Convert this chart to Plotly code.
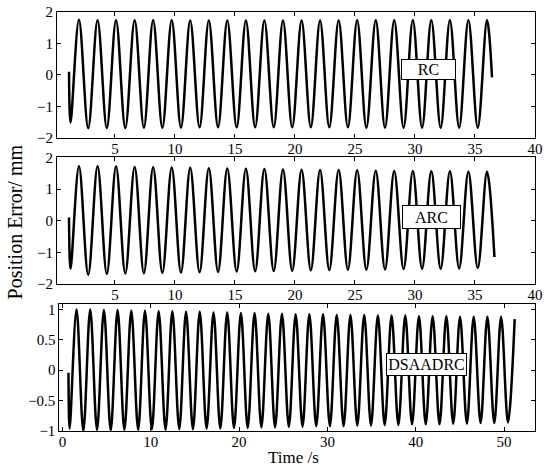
import plotly.graph_objects as go
from plotly.subplots import make_subplots

# extrema (time in s, error in mm), joined with a spline
rc_t = [1.17, 1.30, 2.00, 2.77, 3.55, 4.32, 5.09, 5.86, 6.64, 7.41, 8.18, 8.95,
        9.73, 10.50, 11.27, 12.05, 12.82, 13.59, 14.36, 15.14, 15.91, 16.68,
        17.45, 18.23, 19.00, 19.77, 20.55, 21.32, 22.09, 22.86, 23.64, 24.41,
        25.18, 25.95, 26.73, 27.50, 28.27, 29.05, 29.82, 30.59, 31.36, 32.14,
        32.91, 33.68, 34.45, 35.23, 36.00, 36.42]
rc_y = [0.10, -1.52, 1.75, -1.70, 1.74, -1.69, 1.74, -1.69, 1.74, -1.68, 1.74, -1.68,
        1.74, -1.68, 1.73, -1.67, 1.73, -1.67, 1.73, -1.67, 1.73, -1.67,
        1.73, -1.67, 1.73, -1.67, 1.73, -1.67, 1.73, -1.67, 1.73, -1.67,
        1.74, -1.68, 1.74, -1.68, 1.74, -1.68, 1.74, -1.68, 1.74, -1.68,
        1.74, -1.68, 1.74, -1.68, 1.74, -0.08]

arc_t = [1.17, 1.30, 2.00, 2.77, 3.55, 4.32, 5.09, 5.86, 6.64, 7.41, 8.18, 8.95,
         9.73, 10.50, 11.27, 12.05, 12.82, 13.59, 14.36, 15.14, 15.91, 16.68,
         17.45, 18.23, 19.00, 19.77, 20.55, 21.32, 22.09, 22.86, 23.64, 24.41,
         25.18, 25.95, 26.73, 27.50, 28.27, 29.05, 29.82, 30.59, 31.36, 32.14,
         32.91, 33.68, 34.45, 35.23, 36.00, 36.62]
arc_y = [0.10, -1.52, 1.72, -1.71, 1.72, -1.68, 1.71, -1.67, 1.70, -1.66, 1.69, -1.65,
         1.68, -1.64, 1.67, -1.63, 1.66, -1.62, 1.65, -1.61, 1.64, -1.60,
         1.63, -1.59, 1.62, -1.58, 1.61, -1.57, 1.60, -1.56, 1.60, -1.55,
         1.59, -1.55, 1.58, -1.54, 1.57, -1.53, 1.57, -1.52, 1.56, -1.52,
         1.56, -1.51, 1.55, -1.50, 1.55, -1.15]

ds_t = [0.68, 0.81, 1.59, 2.36, 3.14, 3.91, 4.69, 5.46, 6.24, 7.01, 7.79, 8.57,
        9.34, 10.12, 10.89, 11.67, 12.44, 13.22, 13.99, 14.77, 15.54, 16.32,
        17.10, 17.87, 18.65, 19.42, 20.20, 20.97, 21.75, 22.52, 23.30, 24.07,
        24.85, 25.63, 26.40, 27.18, 27.95, 28.73, 29.50, 30.28, 31.05, 31.83,
        32.60, 33.38, 34.16, 34.93, 35.71, 36.48, 37.26, 38.03, 38.81, 39.58,
        40.36, 41.13, 41.91, 42.69, 43.46, 44.24, 45.01, 45.79, 46.56, 47.34,
        48.11, 48.89, 49.66, 50.44, 51.20]
ds_y = [-0.04, -0.96, 1.00, -1.00, 1.00, -0.98, 0.99, -0.99, 0.99, -0.98, 0.98, -0.98,
        0.98, -0.97, 0.97, -0.98, 0.97, -0.97, 0.96, -0.97, 0.96, -0.96,
        0.95, -0.96, 0.95, -0.95, 0.94, -0.95, 0.94, -0.94, 0.93, -0.94,
        0.93, -0.93, 0.92, -0.93, 0.92, -0.92, 0.92, -0.92, 0.91, -0.92,
        0.91, -0.91, 0.91, -0.91, 0.90, -0.90, 0.90, -0.90, 0.90, -0.89,
        0.89, -0.89, 0.89, -0.89, 0.89, -0.88, 0.88, -0.88, 0.88, -0.87,
        0.88, -0.87, 0.88, -0.86, 0.84]

labels = ["RC", "ARC", "DSAADRC"]

FONT = "Liberation Serif"

fig = make_subplots(rows=3, cols=1)
for i, (t, y) in enumerate([(rc_t, rc_y), (arc_t, arc_y), (ds_t, ds_y)]):
    fig.add_trace(go.Scatter(x=t, y=y, mode="lines",
                             line=dict(color="black", width=2.5, shape="spline", smoothing=1),
                             showlegend=False), row=i + 1, col=1)

ax = dict(showline=True, linecolor="black", linewidth=1, mirror="ticks",
          ticks="inside", ticklen=4, tickcolor="black", showgrid=False,
          zeroline=False, automargin=False,
          tickfont=dict(family=FONT, size=15, color="black"))
xax = dict(ax, ticklabelstandoff=-3)

fig.update_layout(
    template="none",
    xaxis=dict(xax, domain=[0, 1], range=[0.17, 40], tickvals=[5, 10, 15, 20, 25, 30, 35, 40]),
    xaxis2=dict(xax, domain=[0, 1], range=[0.17, 40], tickvals=[5, 10, 15, 20, 25, 30, 35, 40]),
    xaxis3=dict(xax, domain=[0.005, 1], range=[-0.35, 53.5], tickvals=[0, 10, 20, 30, 40, 50]),
    yaxis=dict(ax, domain=[0.700, 1.0], range=[-2, 2], tickvals=[-2, -1, 0, 1, 2]),
    yaxis2=dict(ax, domain=[0.351, 0.653], range=[-2, 2], tickvals=[-2, -1, 0, 1, 2]),
    yaxis3=dict(ax, domain=[0, 0.302], range=[-1, 1.082], tickvals=[-1, -0.5, 0, 0.5, 1]),
    width=550, height=468,
    margin=dict(l=57, r=15, t=12, b=37),
    paper_bgcolor="white", plot_bgcolor="white",
    font=dict(family=FONT, color="black"),
)

box_pos = [(0.778, 0.862, 51, 17), (0.783, 0.510, 55, 20), (0.772, 0.158, 77, 19)]
for lab, (bx, by, w, h) in zip(labels, box_pos):
    fig.add_annotation(x=bx, y=by, xref="paper", yref="paper", xanchor="center", yanchor="middle",
                       text=lab, showarrow=False,
                       font=dict(family=FONT, size=16, color="black"),
                       bgcolor="white", bordercolor="black", borderwidth=1, borderpad=1,
                       width=w, height=h)

fig.add_annotation(x=-0.088, y=0.5, xref="paper", yref="paper", xanchor="center", yanchor="middle",
                   text="Position Error/ mm", textangle=-90, showarrow=False,
                   font=dict(family=FONT, size=20, color="black"))
fig.add_annotation(x=0.494, y=-0.0644, xref="paper", yref="paper", xanchor="center", yanchor="middle",
                   text="Time /s", showarrow=False, font=dict(family=FONT, size=17, color="black"))

# the page's default 8px body margin would shift and crop the figure
fig.write_html("out.html", config={"displayModeBar": False},
               post_script="document.body.style.margin='0';")
